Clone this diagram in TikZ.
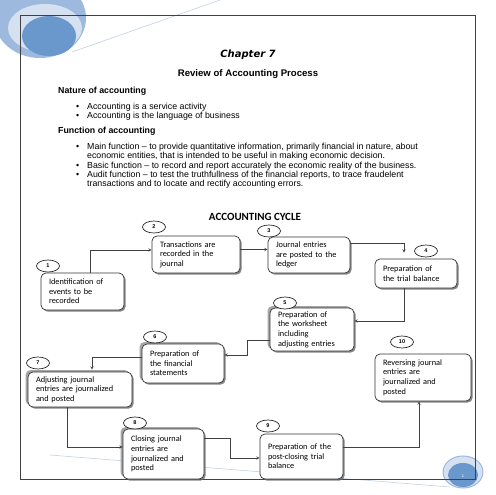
\documentclass[tikz,border=0pt]{standalone}
\usepackage{fontspec}
\setmainfont{Liberation Sans}
\newfontfamily\boxfont{Carlito}
\newfontfamily\chapfont{DejaVu Sans}
\usetikzlibrary{shapes.geometric,shadows}

\definecolor{pageblue}{RGB}{106,151,204}
\definecolor{ringblue}{RGB}{213,225,240}
\definecolor{outerblue}{RGB}{157,185,221}
\definecolor{linegray}{RGB}{195,210,225}

\tikzset{
  stage/.style={draw=black!80, fill=white, rounded corners=5pt, line width=0.7pt,
    align=left, inner xsep=8pt, inner ysep=2pt,
    font=\boxfont\fontsize{8.3}{9.6}\selectfont,
    drop shadow={shadow xshift=1.6pt, shadow yshift=-1.6pt, fill=black!60, opacity=0.8}},
  stage glow/.style={stage,
    general shadow={shadow xshift=-2.5pt, shadow yshift=2pt, fill=black!35}},
  tag/.style={draw=black!85, ellipse, line width=0.7pt, fill=white,
    minimum width=23pt, minimum height=12pt, inner sep=0pt,
    font=\bfseries\fontsize{5.5}{6}\selectfont},
  flow/.style={->, draw=black!75, line width=0.5pt},
  body/.style={anchor=base west, inner sep=0pt, font=\fontsize{8.8}{9.3}\selectfont},
  head/.style={anchor=base west, inner sep=0pt, font=\bfseries\fontsize{8.8}{9.3}\selectfont},
}

\begin{document}
\begin{tikzpicture}[x=1pt, y=-1pt, >=stealth]
  \useasboundingbox (0,0) rectangle (495,495);

  % page decoration
  \begin{scope}
    \clip (0,0) rectangle (495,495);
    \fill[outerblue] (40,18) ellipse [x radius=46pt, y radius=40pt];
    \fill[ringblue] (45,28) ellipse [x radius=37pt, y radius=24pt];
    \fill[pageblue] (49,36) ellipse [x radius=27pt, y radius=20pt];
    \draw[linegray, line width=0.6pt] (72,52) -- (220,0);
    \draw[linegray, line width=0.6pt] (50,455) -- (450,487);
    \fill[ringblue, draw=outerblue, line width=1pt] (463,472) ellipse [x radius=20pt, y radius=16pt];
    \fill[pageblue] (463,475) ellipse [x radius=15pt, y radius=12pt];
  \end{scope}
  \draw[black!75, line width=0.8pt] (20,15) rectangle (475,479);
  \node[text=white, font=\fontsize{4}{4}\selectfont] (pagenum) at (463,476) {1};

  % headings and text
  \node[font=\chapfont\bfseries\itshape\fontsize{10}{12}\selectfont] (chapter) at (248,55) {Chapter 7};
  \node[font=\bfseries\fontsize{9.6}{11}\selectfont] (review) at (248,74) {Review of Accounting Process};

  \node[head] (nature) at (58,93) {Nature of accounting};
  \node[body] (dot1) at (76,109) {\textbullet};
  \node[body] (nat1) at (87,109) {Accounting is a service activity};
  \node[body] (dot2) at (76,118.3) {\textbullet};
  \node[body] (nat2) at (87,118.3) {Accounting is the language of business};

  \node[head] (function) at (58,133) {Function of accounting};
  \node[body] (dot3) at (76,149) {\textbullet};
  \node[body] (fun1a) at (87,149) {Main function -- to provide quantitative information, primarily financial in nature, about};
  \node[body] (fun1b) at (87,158.3) {economic entities, that is intended to be useful in making economic decision.};
  \node[body] (dot4) at (76,168) {\textbullet};
  \node[body] (fun2) at (87,168) {Basic function -- to record and report accurately the economic reality of the business.};
  \node[body] (dot5) at (76,177.3) {\textbullet};
  \node[body] (fun3a) at (87,177.3) {Audit function -- to test the truthfullness of the financial reports, to trace fraudelent};
  \node[body] (fun3b) at (87,186.7) {transactions and to locate and rectify accounting errors.};

  \node[font=\boxfont\bfseries\fontsize{11}{13}\selectfont] (cycle) at (255,217) {ACCOUNTING CYCLE};

  % the cycle
  \node[stage, text width=67pt, minimum height=37pt] (B1) at (82.5,291.5) {Identification of\\events to be\\recorded};
  \node[stage, text width=72pt, minimum height=37pt] (B2) at (196,254.5) {Transactions are\\recorded in the\\journal};
  \node[stage, text width=66pt, minimum height=36pt] (B3) at (309,255) {Journal entries\\are posted to the\\ledger};
  \node[stage, text width=66pt, minimum height=29pt] (B4) at (416,273.5) {Preparation of\\the trial balance};
  \node[stage glow, text width=68pt, minimum height=43pt] (B5) at (312,329.5) {Preparation of\\the worksheet\\including\\adjusting entries};
  \node[stage glow, text width=66pt, minimum height=39pt] (B6) at (183,363.5) {Preparation of\\the financial\\statements};
  \node[stage glow, text width=88pt, minimum height=35pt] (B7) at (80,389.5) {Adjusting journal\\entries are journalized\\and posted};
  \node[stage glow, text width=65pt, minimum height=50pt] (B8) at (163.5,454) {Closing journal\\entries are\\journalized and\\posted};
  \node[stage, text width=67pt, minimum height=45pt] (B9) at (301.5,456.5) {Preparation of the\\post-closing trial\\balance};
  \node[stage, text width=80pt, minimum height=47pt] (B10) at (423,377.5) {Reversing journal\\entries are\\journalized and\\posted};

  \node[tag] (C1) at (48,266) {1};
  \node[tag] (C2) at (154,227) {2};
  \node[tag] (C3) at (269,231) {3};
  \node[tag] (C4) at (426,251) {4};
  \node[tag] (C5) at (285,303) {5};
  \node[tag] (C6) at (155,337) {6};
  \node[tag] (C7) at (38,363) {7};
  \node[tag] (C8) at (135,423) {8};
  \node[tag] (C9) at (268,426) {9};
  \node[tag] (C10) at (402,342) {10};

  % connectors
  \draw[flow] ([xshift=7.5pt]B1.north) |- ([yshift=4.5pt]B2.west);
  \draw[flow] ([yshift=5pt]B2.east) -- ([yshift=5pt]B2.east -| B3.west);
  \draw[flow, shorten >=6pt] ([yshift=12pt]B3.east) -| ([xshift=-12pt]B4.north);
  \draw[flow] ([xshift=-12pt]B4.south) |- ([yshift=8.5pt]B5.east);
  \draw[flow] ([yshift=-10.5pt]B5.west) -- ++(-22,0) |- ([yshift=8.5pt]B6.east);
  \draw[flow, shorten >=2pt] ([yshift=6.5pt]B6.west) -| ([xshift=12pt]B7.north);
  \draw[flow] ([xshift=-13pt]B7.south) |- ([yshift=7pt]B8.west);
  \draw[flow] ([yshift=16pt]B8.east) -- ++(26,0) |- ([yshift=-1.5pt]B9.west);
  \draw[flow] ([yshift=9.5pt]B9.east) -| ([xshift=-4pt]B10.south);
\end{tikzpicture}
\end{document}
